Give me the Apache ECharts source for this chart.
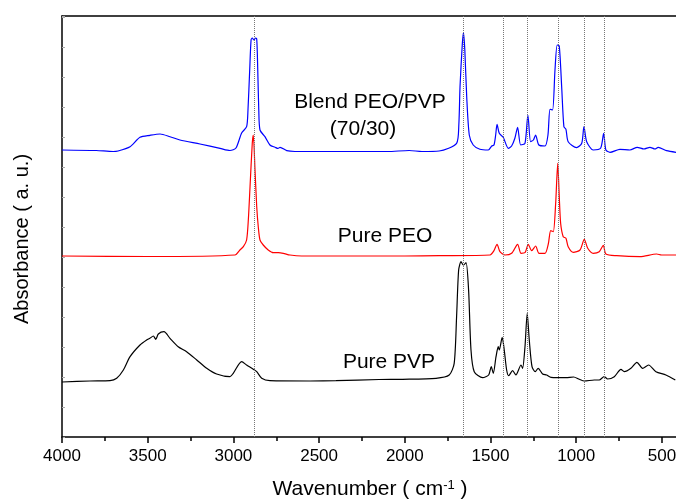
<!DOCTYPE html>
<html>
<head>
<meta charset="utf-8">
<script src="https://cdn.jsdelivr.net/npm/echarts@6/dist/echarts.min.js"></script>
<style>html,body{margin:0;padding:0;background:#fff}#c{width:676px;height:501px}</style>
</head>
<body>
<div id="c"></div>
<script>
// Wavenumber (cm-1) and absorbance (a.u., spectra stacked with their offsets)
const blendWn = [4000,3800,3702,3673,3603,3545,3487,3428,3370,3312,3195,3078,3020,2985,2952,2923,2915,2905,2897,2890,2880,2872,2864,2858,2852,2845,2816,2787,2757,2740,2728,2689,2641,2300,2100,1975,1900,1800,1698,1685,1678,1665,1658,1650,1639,1624,1601,1562,1513,1493,1480,1470,1462,1449,1426,1396,1377,1358,1342,1324,1299,1282,1266,1250,1237,1218,1182,1165,1153,1138,1124,1111,1099,1085,1072,1060,1047,998,968,955,939,901,858,840,827,803,745,687,644,605,570,541,522,473,418];
const blendAbs = [287,286.5,285.5,286,290.3,299.7,301.7,303,300.3,297,293,288.7,286.5,289,304,310.3,327,367,397,399,397,399,398,367,327,307,300.3,292,289.7,288.5,289.7,286.3,285.5,285.5,285.5,286.5,285.5,286,293.7,312,350.3,392,404.3,387,340.3,302,292,287.7,287,291,292,302,312.7,303.7,299.7,288.7,291,298.7,309.7,292,293.7,322,295.3,297,302,292,291,302,327.7,327,367,392,391,350.3,310.3,307.7,295.3,289.3,293.7,310.3,295.3,287,288.7,303.7,287,284.7,287.7,287,289.7,288,289.7,288,289.7,286.3,284.7];

const peoWn = [4000,3500,2991,2962,2942,2923,2913,2903,2890,2884,2874,2864,2855,2845,2826,2797,2767,2738,2709,2670,2602,2000,1800,1503,1480,1462,1445,1416,1377,1342,1322,1299,1280,1260,1237,1217,1182,1163,1149,1134,1120,1108,1099,1091,1076,1060,1047,1017,978,953,933,901,866,842,827,764,628,531,502,418];
const peoAbs = [181,180.5,182,187,190.3,197,217,250.3,293.7,302,267,230.3,210.3,197,192,187,184.3,184.3,183.7,182,181,181,181.3,182,186.3,192.7,185.3,182,183.7,192.7,183.7,184.3,192.7,186.3,191,183.7,183.7,193,206.3,205.3,233.7,273.7,240.3,213.7,200.3,198.7,190.3,184.7,187,197.7,188.7,183.7,185.3,191.7,183,181.3,180.3,183,182,182];

const pvpWn = [4000,3837,3720,3681,3642,3603,3545,3506,3487,3467,3453,3438,3405,3370,3322,3273,3214,3156,3098,3020,3001,2952,2923,2884,2864,2835,2787,2553,2402,2150,2013,1818,1741,1712,1698,1686,1672,1659,1643,1628,1614,1595,1546,1511,1496,1484,1468,1455,1449,1432,1420,1406,1394,1371,1352,1322,1313,1299,1286,1274,1258,1239,1222,1196,1173,1147,1060,1015,982,953,895,866,837,817,778,739,720,681,646,613,578,535,477,422];
const pvpAbs = [55,56,56.3,58.7,67,80.3,92,97,98.7,101,97.7,103,105.3,98.7,90.3,85.3,77,68.7,63,60.3,63.7,75.3,72,67.7,65.3,58.7,56.3,56,56.3,57.5,57.7,58.7,62,73.7,120.3,167,175.3,172,174.3,147,87,65.3,59.3,62,70.3,63.7,80.3,90.3,87,99.7,87,67,61.3,66.3,62,72,68.7,90.3,123.7,97,70.3,65.3,68.7,63,62,59.7,59.3,60,57.7,56,57,57,60.3,58,60.3,67.7,65.3,68.7,74.7,68.7,72,65.3,62,57];

// Reference wavenumbers marked with dotted lines
const markWn = [2880,1659,1426,1286,1103,953,837];

// Axis ticks
const xTicks = [4000,3500,3000,2500,2000,1500,1000,500];
const xMinorTicks = [3750,3250,2750,2250,1750,1250,750];
const xRange = [418,4000];

const labels = [
  {text:'Blend PEO/PVP', x:370, y:102},
  {text:'(70/30)', x:363, y:129},
  {text:'Pure PEO', x:385, y:236},
  {text:'Pure PVP', x:389, y:362}
];

const zip = (a,b)=>a.map((v,i)=>[v,b[i]]);

const chart = echarts.init(document.getElementById('c'), null, {renderer:'canvas'});
const FONT = '"Liberation Sans", Arial, sans-serif';
const lineSeries = (name, wn, ab, color, extra) => Object.assign({
  name, type:'line', data: zip(wn, ab), showSymbol:false, symbol:'none',
  smooth:0.25, xAxisIndex:0,
  lineStyle:{color, width:1.2}, itemStyle:{color}, z:3, animation:false, silent:true
}, extra||{});

const baseX = {
  type:'value', min:xRange[0], max:xRange[1], inverse:true, gridIndex:0,
  splitLine:{show:false}
};

chart.setOption({
  animation:false,
  backgroundColor:'#fff',
  grid:{left:62, top:16, right:0, bottom:64, containLabel:false, outerBoundsMode:'none'},
  xAxis:[
    Object.assign({}, baseX, {
      position:'bottom',
      axisLine:{show:true, onZero:false, lineStyle:{color:'#000', width:1.5}},
      axisTick:{show:true, length:6, inside:false, customValues:xTicks, lineStyle:{color:'#000', width:1.5}},
      axisLabel:{show:true, margin:11, fontSize:17, color:'#000', fontFamily:FONT, customValues:xTicks,
        formatter: v => String(v), hideOverlap:false}
    }),
    Object.assign({}, baseX, {
      position:'bottom',
      axisLine:{show:false, onZero:false},
      axisTick:{show:true, length:4, inside:false, customValues:xMinorTicks, lineStyle:{color:'#000', width:1.5}},
      axisLabel:{show:false}
    }),
    Object.assign({}, baseX, {
      position:'top',
      axisLine:{show:true, onZero:false, lineStyle:{color:'#000', width:1.5}},
      axisTick:{show:false},
      axisLabel:{show:false}
    })
  ],
  yAxis:{
    type:'value', min:0, max:421, interval:30,
    axisLine:{show:true, onZero:false, lineStyle:{color:'#000', width:1.5}},
    axisTick:{show:true, inside:true, length:3, lineStyle:{color:'#aaa', width:1}},
    axisLabel:{show:false},
    splitLine:{show:false}
  },
  series:[
    lineSeries('Pure PVP', pvpWn, pvpAbs, '#000000', {
      markLine:{
        silent:true, symbol:['none','none'], label:{show:false},
        lineStyle:{color:'#777', type:'dotted', width:1},
        data: markWn.map(w=>({xAxis:w}))
      }
    }),
    lineSeries('Pure PEO', peoWn, peoAbs, '#ff0000'),
    lineSeries('Blend PEO/PVP', blendWn, blendAbs, '#0000ff')
  ],
  graphic:[
    ...labels.map(l=>({type:'text', x:l.x, y:l.y, silent:true,
      style:{text:l.text, font:'21px '+FONT, fill:'#000', align:'center', verticalAlign:'middle'}})),
    {type:'text', x:370, y:489, silent:true,
      style:{text:'Wavenumber ( cm{s|-1} )', font:'21px '+FONT, fill:'#000', align:'center', verticalAlign:'middle',
        rich:{s:{fontSize:13, fontFamily:FONT, verticalAlign:'top', lineHeight:13, padding:[0,0,10,0]}}}},
    {type:'text', x:22, y:239, rotation:Math.PI/2, silent:true,
      style:{text:'Absorbance ( a. u.)', font:'20px '+FONT, fill:'#000', align:'center', verticalAlign:'middle'}}
  ]
});
</script>
</body>
</html>
